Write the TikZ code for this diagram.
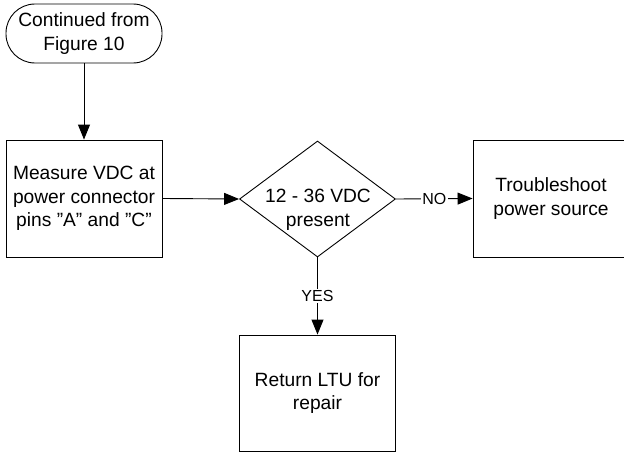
\documentclass[tikz,border=0pt]{standalone}
\usepackage{fontspec}
\setmainfont{Liberation Sans}[Ligatures=ResetAll]
\usetikzlibrary{arrows.meta,shapes.geometric}
\begin{document}
\begin{tikzpicture}[x=1pt,y=-1pt,
  every node/.style={font=\fontsize{19.2}{23.5}\selectfont, align=center},
  procbox/.style={draw, line width=0.9pt, minimum width=156pt, minimum height=117pt, inner sep=0pt},
  termbox/.style={draw, line width=0.9pt, rounded corners=29pt, minimum width=156pt, minimum height=59pt, inner sep=0pt},
  decbox/.style={draw, diamond, line width=0.9pt, minimum width=156pt, minimum height=116pt, inner sep=0pt},
  conn/.style={line width=0.9pt, -{Triangle[length=15pt,width=12pt]}},
  lbl/.style={fill=white, inner sep=1.5pt, font=\fontsize{16}{19}\selectfont}]
\useasboundingbox (0,0) rectangle (624,452);
\clip (0,0) rectangle (624,452);
\node[termbox] (term) at (84,33.5) {Continued from\\Figure 10};
\node[procbox] (meas) at (84,198.5) {Measure VDC at\\power connector\\pins "A" and "C"};
\node[decbox] (dec) at (317.5,199) {};
\node (dectext) at (318,210) {12 - 36 VDC\\present};
\node[procbox] (trouble) at (551,198.5) {Troubleshoot\\power source};
\node[procbox, minimum height=116pt] (ret) at (317.5,393) {Return LTU for\\repair};
\draw[conn] (term) -- (meas);
\draw[conn] (meas.east) -- (dec.west);
\draw[conn] (dec.east) -- node[lbl] {NO} (trouble.west);
\draw[conn] (dec.south) -- node[lbl] {YES} (ret.north);
\end{tikzpicture}
\end{document}
